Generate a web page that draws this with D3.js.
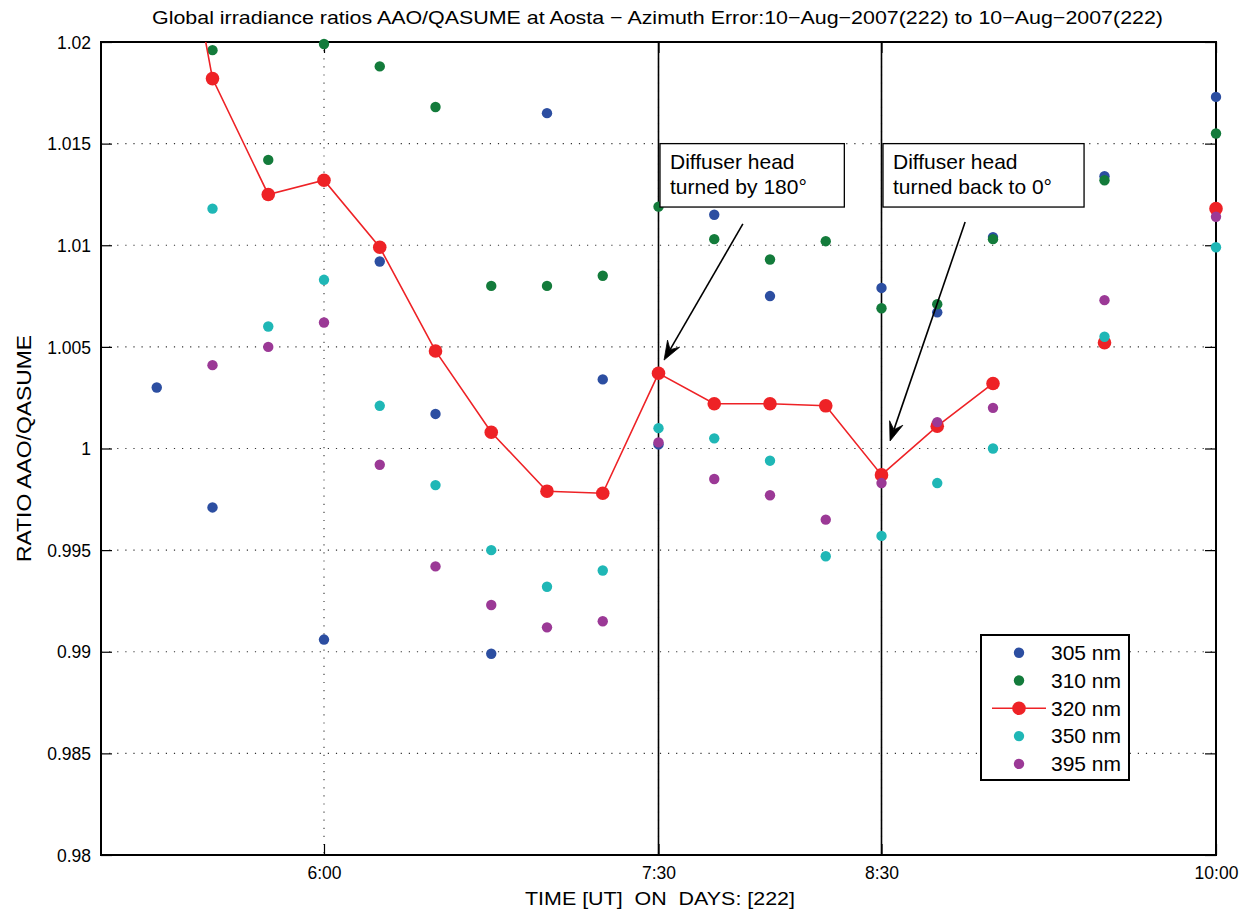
<!DOCTYPE html>
<html>
<head>
<meta charset="utf-8">
<script src="https://cdn.jsdelivr.net/npm/d3@7"></script>
<style>
  html, body { margin: 0; padding: 0; background: #fff; }
  svg text { font-family: "Liberation Sans", Arial, Helvetica, sans-serif; fill: #000; }
</style>
</head>
<body>
<svg id="chart" width="1253" height="914"></svg>
<script>
// ---------------- DATA ----------------
const times = ["5:15","5:30","5:45","6:00","6:15","6:30","6:45","7:00","7:15","7:30",
               "7:45","8:00","8:15","8:30","8:45","9:00","9:15","9:30","9:45","10:00"];
const s305 = [1.0030, 0.9971, null, 0.9906, 1.0092, 1.0017, 0.9899, 1.0165, 1.0034, 1.0002,
              1.0115, 1.0075, 1.0139, 1.0079, 1.0067, 1.0104, null, 1.0134, null, 1.0173];
const s310 = [null, 1.0196, 1.0142, 1.0199, 1.0188, 1.0168, 1.0080, 1.0080, 1.0085, 1.0119,
              1.0103, 1.0093, 1.0102, 1.0069, 1.0071, 1.0103, null, 1.0132, null, 1.0155];
const s320 = [1.0330, 1.0182, 1.0125, 1.0132, 1.0099, 1.0048, 1.0008, 0.9979, 0.9978, 1.0037,
              1.0022, 1.0022, 1.0021, 0.9987, 1.0011, 1.0032, null, 1.0052, null, 1.0118];
const s350 = [null, 1.0118, 1.0060, 1.0083, 1.0021, 0.9982, 0.9950, 0.9932, 0.9940, 1.0010,
              1.0005, 0.9994, 0.9947, 0.9957, 0.9983, 1.0000, null, 1.0055, null, 1.0099];
const s395 = [null, 1.0041, 1.0050, 1.0062, 0.9992, 0.9942, 0.9923, 0.9912, 0.9915, 1.0003,
              0.9985, 0.9977, 0.9965, 0.9983, 1.0013, 1.0020, null, 1.0073, null, 1.0114];
const seriesNames = ["305 nm", "310 nm", "320 nm", "350 nm", "395 nm"];
const seriesColors = ["#2c4ea1", "#137b3b", "#ee2226", "#1fb7b6", "#9b3996"];
const xTickLabels = ["6:00", "7:30", "8:30", "10:00"];
const yTickValues = [0.98, 0.985, 0.99, 0.995, 1.0, 1.005, 1.01, 1.015, 1.02];
const yTickLabels = ["0.98", "0.985", "0.99", "0.995", "1", "1.005", "1.01", "1.015", "1.02"];
const eventTimes = ["7:30", "8:30"];
const annotationLines = [["Diffuser head", "turned by 180\u00B0"], ["Diffuser head", "turned back to 0\u00B0"]];
// annotation anchors in data units: [time, value]
const annoBoxes = [ {x0: "7:30.4", x1: "8:20", y0: 1.0150, y1: 1.01188},
                    {x0: "8:30.4", x1: "9:24.5", y0: 1.0150, y1: 1.01188} ];
const annoArrows = [ {from: ["7:52.7", 1.01105], to: ["7:31.5", 1.00435]},
                     {from: ["8:52.5", 1.01114], to: ["8:32.3", 1.00037]} ];
const titleText = "Global irradiance ratios AAO/QASUME at Aosta \u2212 Azimuth Error:10\u2212Aug\u22122007(222) to 10\u2212Aug\u22122007(222)";
const xTitle = "TIME [UT]  ON  DAYS: [222]";
const yTitle = "RATIO AAO/QASUME";

// ---------------- HELPERS ----------------
function toMin(s) { const [h, m] = s.split(":"); return (+h) * 60 + parseFloat(m); }

const margin = {left: 101, right: 1216, top: 42, bottom: 855};
const svg = d3.select("#chart");

const x = d3.scaleLinear().domain([toMin("5:00"), toMin("10:00")]).range([margin.left, margin.right]);
const y = d3.scaleLinear().domain([0.98, 1.02]).range([margin.bottom, margin.top]);

svg.append("defs").append("clipPath").attr("id", "plotclip")
  .append("rect").attr("x", margin.left).attr("y", margin.top)
  .attr("width", margin.right - margin.left).attr("height", margin.bottom - margin.top);

// ---------------- GRID ----------------
const grid = svg.append("g");
grid.selectAll("line.h").data(yTickValues.slice(1, -1)).enter().append("line")
  .attr("x1", margin.left).attr("x2", margin.right)
  .attr("y1", d => y(d)).attr("y2", d => y(d))
  .attr("stroke", "#333").attr("stroke-width", 1.1).attr("stroke-dasharray", "1.2,6.9");
grid.selectAll("line.v").data(xTickLabels.slice(0, -1)).enter().append("line")
  .attr("x1", d => x(toMin(d))).attr("x2", d => x(toMin(d)))
  .attr("y1", margin.top).attr("y2", margin.bottom)
  .attr("stroke", "#333").attr("stroke-width", 1.1).attr("stroke-dasharray", "1.2,6.9");

// event vertical lines
svg.append("g").selectAll("line").data(eventTimes).enter().append("line")
  .attr("x1", d => x(toMin(d))).attr("x2", d => x(toMin(d)))
  .attr("y1", margin.top).attr("y2", margin.bottom)
  .attr("stroke", "#000").attr("stroke-width", 1.6);

// ---------------- AXES ----------------
const tickLen = 11;
const axG = svg.append("g");
const gxb = axG.append("g").attr("transform", `translate(0,${margin.bottom})`)
  .call(d3.axisBottom(x).tickValues(xTickLabels.map(toMin)).tickFormat((d, i) => xTickLabels[i])
    .tickSizeInner(-tickLen).tickSizeOuter(0).tickPadding(12));
const gxt = axG.append("g").attr("transform", `translate(0,${margin.top})`)
  .call(d3.axisTop(x).tickValues(xTickLabels.map(toMin)).tickFormat("").tickSizeInner(-tickLen).tickSizeOuter(0));
const gyl = axG.append("g").attr("transform", `translate(${margin.left},0)`)
  .call(d3.axisLeft(y).tickValues(yTickValues).tickFormat((d, i) => yTickLabels[i])
    .tickSizeInner(-tickLen).tickSizeOuter(0).tickPadding(10));
const gyr = axG.append("g").attr("transform", `translate(${margin.right},0)`)
  .call(d3.axisRight(y).tickValues(yTickValues).tickFormat("").tickSizeInner(-tickLen).tickSizeOuter(0));
[gxb, gxt, gyl, gyr].forEach(g => {
  g.select(".domain").remove();
  g.selectAll(".tick line").attr("stroke", "#000").attr("stroke-width", 1.2);
  g.selectAll(".tick text").attr("font-size", 17.5).attr("font-family", "Liberation Sans, Arial, sans-serif").attr("fill", "#000");
});
gyl.selectAll(".tick text").attr("dy", "0.35em");

// frame
svg.append("rect").attr("x", margin.left).attr("y", margin.top)
  .attr("width", margin.right - margin.left).attr("height", margin.bottom - margin.top)
  .attr("fill", "none").attr("stroke", "#000").attr("stroke-width", 2);

// ---------------- SERIES ----------------
const allSeries = [s305, s310, s320, s350, s395];
const inRange = v => v != null && v >= 0.98 && v <= 1.02;
const dataG = svg.append("g");
allSeries.forEach((vals, si) => {
  const pts = times.map((t, i) => ({t: toMin(t), v: vals[i]}));
  const g = dataG.append("g");
  if (si === 2) {
    const line = d3.line().defined(d => d.v != null).x(d => x(d.t)).y(d => y(d.v));
    g.append("path").datum(pts).attr("d", line).attr("fill", "none")
      .attr("stroke", seriesColors[si]).attr("stroke-width", 1.6)
      .attr("clip-path", "url(#plotclip)");
  }
  g.selectAll("circle").data(pts.filter(d => inRange(d.v))).enter().append("circle")
    .attr("cx", d => x(d.t)).attr("cy", d => y(d.v))
    .attr("r", si === 2 ? 6.8 : 5.2).attr("fill", seriesColors[si]);
});

// ---------------- ANNOTATIONS ----------------
const annG = svg.append("g");
annoBoxes.forEach((b, i) => {
  const bx = x(toMin(b.x0)), bx1 = x(toMin(b.x1)), by = y(b.y0), by1 = y(b.y1);
  annG.append("rect").attr("x", bx).attr("y", by).attr("width", bx1 - bx).attr("height", by1 - by)
    .attr("fill", "#fff").attr("stroke", "#000").attr("stroke-width", 1.3);
  annotationLines[i].forEach((ln, k) => {
    annG.append("text").attr("x", bx + 10).attr("y", by + 25 + k * 25)
      .attr("font-size", 21).text(ln);
  });
});
annoArrows.forEach(a => {
  const x1 = x(toMin(a.from[0])), y1 = y(a.from[1]), x2 = x(toMin(a.to[0])), y2 = y(a.to[1]);
  const ang = Math.atan2(y2 - y1, x2 - x1);
  const hl = 19, hw = 7, notch = 12;
  const ux = Math.cos(ang), uy = Math.sin(ang), px = -uy, py = ux;
  const bxp = x2 - ux * hl, byp = y2 - uy * hl;
  annG.append("line").attr("x1", x1).attr("y1", y1).attr("x2", x2 - ux * notch).attr("y2", y2 - uy * notch)
    .attr("stroke", "#000").attr("stroke-width", 1.6);
  annG.append("path")
    .attr("d", `M${x2},${y2} L${bxp + px * hw},${byp + py * hw} L${x2 - ux * notch},${y2 - uy * notch} L${bxp - px * hw},${byp - py * hw} Z`)
    .attr("fill", "#000").attr("stroke", "#000").attr("stroke-width", 0.8);
});

// ---------------- LEGEND ----------------
const lg = svg.append("g");
const lgX = 981, lgY = 635, lgW = 148, lgH = 145, rowH = 27.8;
lg.append("rect").attr("x", lgX).attr("y", lgY).attr("width", lgW).attr("height", lgH)
  .attr("fill", "#fff").attr("stroke", "#000").attr("stroke-width", 2);
seriesNames.forEach((n, i) => {
  const cy = lgY + 17.7 + i * rowH;
  if (i === 2) {
    lg.append("line").attr("x1", lgX + 11).attr("x2", lgX + 65).attr("y1", cy).attr("y2", cy)
      .attr("stroke", seriesColors[i]).attr("stroke-width", 1.6);
  }
  lg.append("circle").attr("cx", lgX + 38).attr("cy", cy).attr("r", i === 2 ? 6.8 : 5.2).attr("fill", seriesColors[i]);
  lg.append("text").attr("x", lgX + 70).attr("y", cy).attr("dy", "0.35em").attr("font-size", 21).text(n);
});

// ---------------- TITLES ----------------
svg.append("text").attr("x", 657.5).attr("y", 24)
  .attr("text-anchor", "middle").attr("font-size", 18.5)
  .attr("textLength", 1011).attr("lengthAdjust", "spacingAndGlyphs").text(titleText);
svg.append("text").attr("x", 660).attr("y", 905)
  .attr("text-anchor", "middle").attr("font-size", 19).style("white-space", "pre")
  .attr("textLength", 270).attr("lengthAdjust", "spacingAndGlyphs").text(xTitle);
svg.append("text").attr("transform", `translate(31,448.5) rotate(-90)`)
  .attr("text-anchor", "middle").attr("font-size", 21)
  .attr("textLength", 227).attr("lengthAdjust", "spacingAndGlyphs").text(yTitle);
</script>
</body>
</html>
